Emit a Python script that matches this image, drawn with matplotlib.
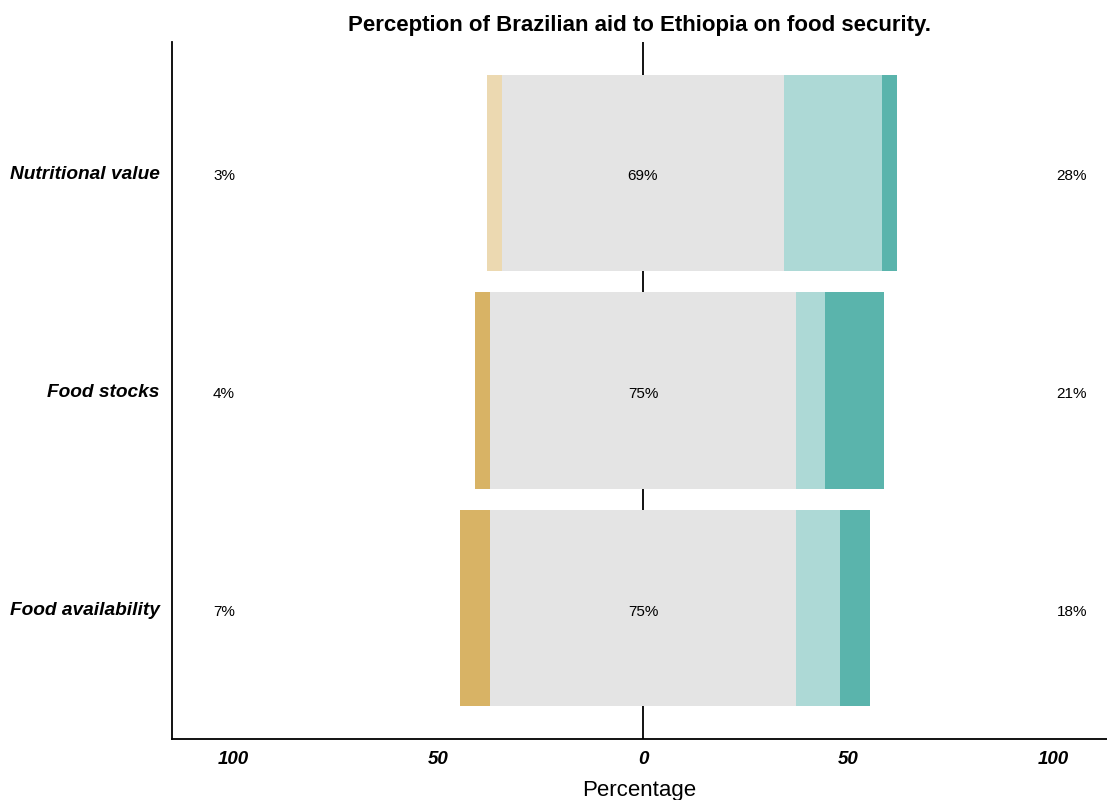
#!/usr/bin/env python3
# -*- coding: utf-8 -*-

import numpy as np
import matplotlib
matplotlib.use('Agg')
import matplotlib.pyplot as plt

plt.rcParams['font.family'] = ['Liberation Sans', 'DejaVu Sans']

# Items, bottom to top
ITEMS = ['Food availability', 'Food stocks', 'Nutritional value']

# Percentages per response level
STRONG_NEG = [7.3, 3.7, 0.0]
NEG = [0.0, 0.0, 3.7]
NEUTRAL = [74.6, 74.6, 68.6]
POS = [10.7, 7.1, 24.0]
STRONG_POS = [7.3, 14.4, 3.7]

LOW_LABELS = ['7%', '4%', '3%']
MID_LABELS = ['75%', '75%', '69%']
HIGH_LABELS = ['18%', '21%', '28%']

COLORS = {
    'strong_neg': '#D8B365',
    'neg': '#ECD9B1',
    'neutral': '#E4E4E4',
    'pos': '#ADD9D6',
    'strong_pos': '#5AB4AC',
}


def plot_likert():
    fig = plt.figure(figsize=(11.07, 8.0), dpi=100)
    ax = fig.add_axes([0.1554, 0.07625, 0.8446, 0.87125])

    y = np.arange(1, len(ITEMS) + 1)
    h = 0.9

    # zero line behind the bars
    ax.axvline(0, color='black', lw=1.3, zorder=0)

    half = np.array(NEUTRAL) / 2
    neg = np.array(NEG)
    sneg = np.array(STRONG_NEG)
    pos = np.array(POS)

    ax.barh(y, -half, height=h, color=COLORS['neutral'], zorder=1)
    ax.barh(y, -neg, left=-half, height=h, color=COLORS['neg'], zorder=1)
    ax.barh(y, -sneg, left=-half - neg, height=h,
            color=COLORS['strong_neg'], zorder=1)
    ax.barh(y, half, height=h, color=COLORS['neutral'], zorder=1)
    ax.barh(y, pos, left=half, height=h, color=COLORS['pos'], zorder=1)
    ax.barh(y, STRONG_POS, left=half + pos, height=h,
            color=COLORS['strong_pos'], zorder=1)

    for i, yy in enumerate(y):
        ax.text(-102.2, yy - 0.01, LOW_LABELS[i], ha='center',
                va='center_baseline', fontsize=11)
        ax.text(0, yy - 0.01, MID_LABELS[i], ha='center',
                va='center_baseline', fontsize=11, zorder=3)
        ax.text(104.6, yy - 0.01, HIGH_LABELS[i], ha='center',
                va='center_baseline', fontsize=11)

    ax.set_xlim(-114.9, 113.2)
    ax.set_ylim(0.4, len(ITEMS) + 0.6)

    ax.set_xticks([-100, -50, 0, 50, 100])
    ax.set_xticklabels(['100', '50', '0', '50', '100'],
                       fontweight='bold', fontstyle='italic', fontsize=13.5)
    ax.set_yticks(y)
    ax.set_yticklabels(ITEMS, fontweight='bold', fontstyle='italic',
                       fontsize=13.8)
    ax.tick_params(axis='x', length=0, pad=9)
    ax.tick_params(axis='y', length=0, pad=9)

    for side in ['top', 'right']:
        ax.spines[side].set_visible(False)
    for side in ['left', 'bottom']:
        ax.spines[side].set_linewidth(1.3)
        ax.spines[side].set_color('black')

    ax.set_xlabel('Percentage', fontsize=16, labelpad=8)
    ax.set_title('Perception of Brazilian aid to Ethiopia on food security.',
                 fontweight='bold', fontsize=16, pad=8)

    fig.savefig('out.png', dpi=100)


plot_likert()
